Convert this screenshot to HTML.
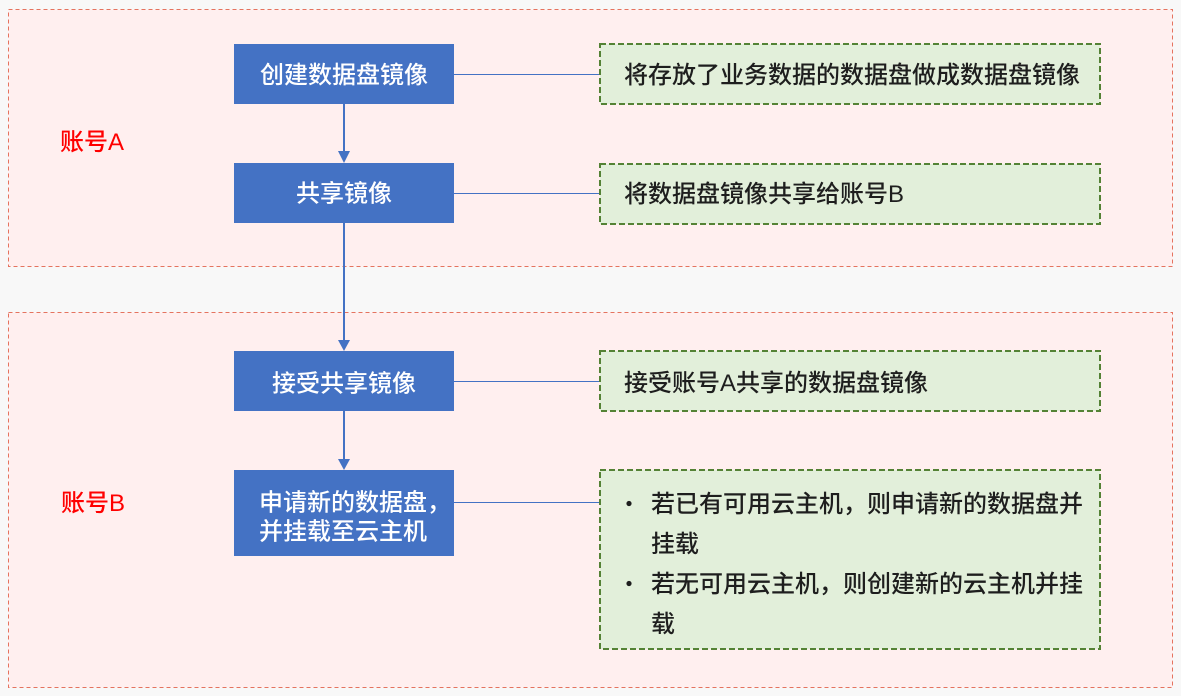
<!DOCTYPE html>
<html>
<head>
<meta charset="utf-8">
<style>
  html, body { margin:0; padding:0; background:#F8F8F8; }
  body { width:1181px; height:696px; overflow:hidden; }
  svg { display:block; }
  text { font-family: "Liberation Sans", "Noto Sans CJK SC", sans-serif; font-size:24px; font-weight:500; }
</style>
</head>
<body>
<svg width="1181" height="696" viewBox="0 0 1181 696" xmlns="http://www.w3.org/2000/svg">
  <rect x="0" y="0" width="1181" height="696" fill="#F8F8F8"/>
  <!-- Containers -->
  <rect x="8.5" y="9.5" width="1164" height="257" fill="#FFEFEF" stroke="#E5735F" stroke-width="1" stroke-dasharray="4 3"/>
  <rect x="8.5" y="312.5" width="1164" height="375" fill="#FFEFEF" stroke="#E5735F" stroke-width="1" stroke-dasharray="4 3"/>

  <!-- Labels -->
  <text x="60" y="150" fill="#FF0000">账号A</text>
  <text x="61" y="511" fill="#FF0000">账号B</text>

  <!-- Connectors -->
  <g stroke="#4472C4" stroke-width="1">
    <line x1="454" y1="74.5" x2="600" y2="74.5"/>
    <line x1="454" y1="193.5" x2="600" y2="193.5"/>
    <line x1="454" y1="381.5" x2="600" y2="381.5"/>
    <line x1="454" y1="502.5" x2="600" y2="502.5"/>
  </g>
  <g stroke="#4472C4" stroke-width="2">
    <line x1="344" y1="104" x2="344" y2="152"/>
    <line x1="344" y1="223" x2="344" y2="341"/>
    <line x1="344" y1="411" x2="344" y2="460"/>
  </g>
  <g fill="#4472C4">
    <polygon points="338,151 350,151 344,163"/>
    <polygon points="338,340 350,340 344,351"/>
    <polygon points="338,459 350,459 344,470"/>
  </g>

  <!-- Blue boxes -->
  <g fill="#4472C4">
    <rect x="234" y="44" width="220" height="60"/>
    <rect x="234" y="163" width="220" height="60"/>
    <rect x="234" y="351" width="220" height="60"/>
    <rect x="234" y="470" width="220" height="86"/>
  </g>
  <g fill="#FFFFFF">
    <text x="344" y="83" text-anchor="middle">创建数据盘镜像</text>
    <text x="344" y="201.5" text-anchor="middle">共享镜像</text>
    <text x="344" y="391.5" text-anchor="middle">接受共享镜像</text>
    <text x="259" y="510.5">申请新的数据盘，</text>
    <text x="259" y="539.5">并挂载至云主机</text>
  </g>

  <!-- Green boxes -->
  <g fill="#E2EFDA" stroke="#548235" stroke-width="2" stroke-dasharray="6 3">
    <rect x="600" y="44" width="500" height="60"/>
    <rect x="600" y="164" width="500" height="60"/>
    <rect x="600" y="351" width="500" height="60"/>
    <rect x="600" y="470" width="500" height="179"/>
  </g>
  <g fill="#1E1E1E">
    <text x="624" y="83">将存放了业务数据的数据盘做成数据盘镜像</text>
    <text x="624" y="202">将数据盘镜像共享给账号B</text>
    <text x="624" y="391">接受账号A共享的数据盘镜像</text>
    <circle cx="629" cy="503.5" r="2.6"/>
    <circle cx="629" cy="583.5" r="2.6"/>
    <text x="651" y="512">若已有可用云主机，则申请新的数据盘并</text>
    <text x="651" y="552">挂载</text>
    <text x="651" y="592">若无可用云主机，则创建新的云主机并挂</text>
    <text x="651" y="632">载</text>
  </g>
</svg>
</body>
</html>
